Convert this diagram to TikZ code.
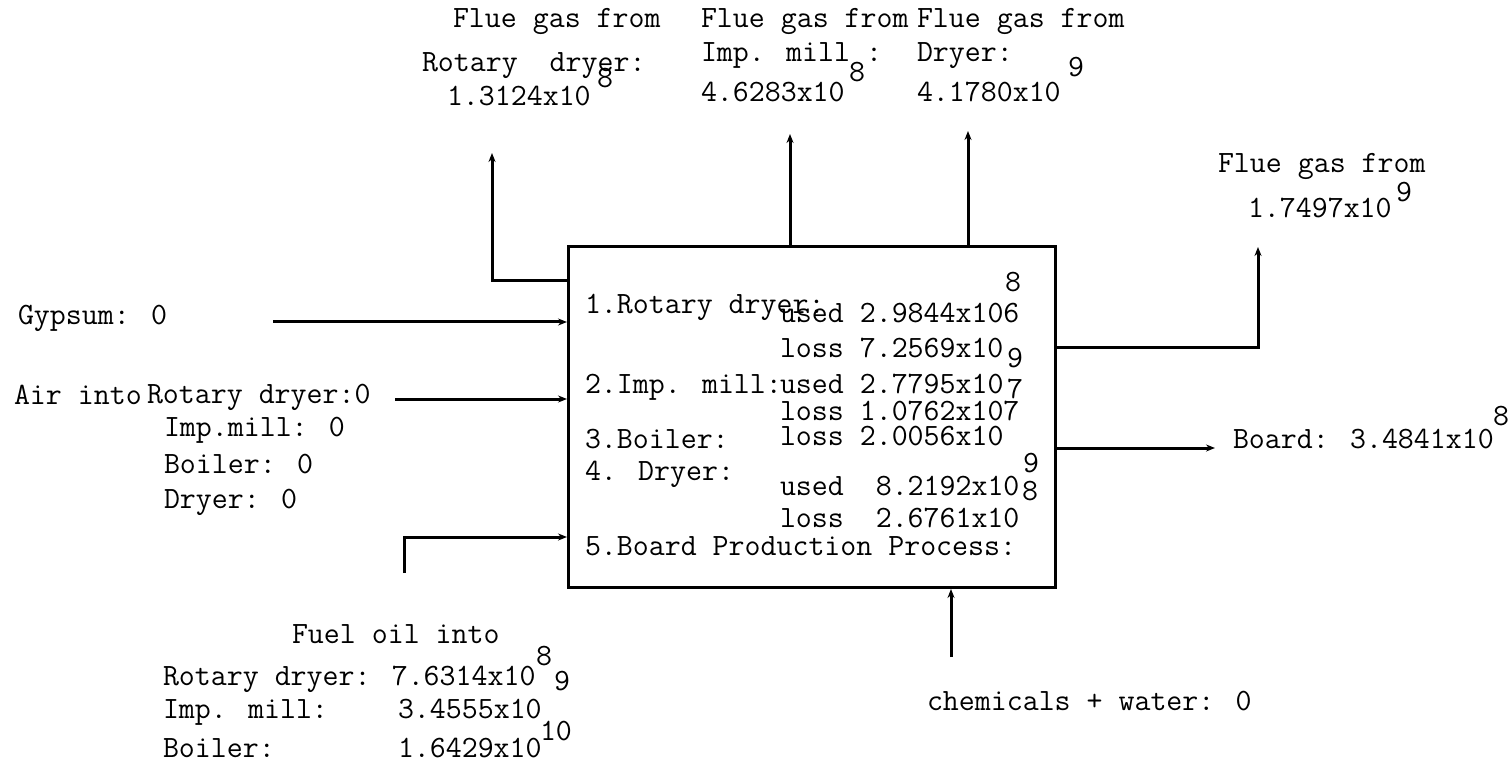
\documentclass[tikz,border=0pt]{standalone}
\usepackage{fontspec}
\usetikzlibrary{arrows.meta}
\tikzset{
  t/.style={anchor=base west, inner sep=0pt, outer sep=0pt, font=\ttfamily\fontsize{31}{34}\selectfont},
  flow/.style={line width=3pt, line join=miter, -{Stealth[length=9pt,width=7pt]}},
  procbox/.style={draw, line width=3pt, anchor=north west, inner sep=0pt, minimum width=487pt, minimum height=341pt}
}
\begin{document}
\begin{tikzpicture}[x=1pt,y=-1pt]
\useasboundingbox[fill=white] (0,0) rectangle (1510,767);
% process box
\node[procbox] (box) at (567,245) {};
% coordinates of free ends
\coordinate (f1) at (492,153);
\coordinate (f1c) at (492,281);
\coordinate (f2) at (790,134);
\coordinate (f3) at (968,131);
\coordinate (f4) at (1258,247);
\coordinate (f4c) at (1258,347);
\coordinate (brd) at (1215,448);
\coordinate (gyp) at (273,322);
\coordinate (air) at (395,399);
\coordinate (fuel) at (404,573);
\coordinate (fuelc) at (404,537);
\coordinate (chem) at (951,657);
% connectors
\draw[flow] (f1c -| box.west) -- (f1c) -- (f1);
\draw[flow] (f2 |- box.north) -- (f2);
\draw[flow] (f3 |- box.north) -- (f3);
\draw[flow] (f4c -| box.east) -- (f4c) -- (f4);
\draw[flow] (brd -| box.east) -- (brd);
\draw[flow] (gyp) -- (gyp -| box.west);
\draw[flow] (air) -- (air -| box.west);
\draw[flow] (fuel) -- (fuelc) -- (fuelc -| box.west);
\draw[flow] (chem) -- (chem |- box.south);
% top labels
\node[t] (t1a) at (453,28) {Flue gas from};
\node[t] (t1b) at (422,72) {Rotary~~dryer:};
\node[t] (t1c) at (447,106) {1.3124x10};
\node[t] (t1e) at (597,88) {8};
\node[t] (t2a) at (701,28) {Flue gas from};
\node[t] (t2b) at (701,62) {Imp. mill};
\node[t] (t2e) at (849,82) {8};
\node[t] (t2d) at (866,62) {:};
\node[t] (t2c) at (701,102) {4.6283x10};
\node[t] (t3a) at (917,28) {Flue gas from};
\node[t] (t3b) at (917,62) {Dryer:};
\node[t] (t3c) at (917,102) {4.1780x10};
\node[t] (t3e) at (1068,77) {9};
% right labels
\node[t] (r1) at (1218,173) {Flue gas from};
\node[t] (r2) at (1248,218) {1.7497x10};
\node[t] (r2e) at (1396,202) {9};
\node[t] (b1) at (1233,448) {Board: 3.4841x10};
\node[t] (b1e) at (1493,425) {8};
% left labels
\node[t] (g1) at (18,325) {Gypsum: 0};
\node[t] (a0) at (14,404) {Air into};
\node[t] (a1) at (147,403) {Rotary dryer:0};
\node[t] (a2) at (164,436) {Imp.mill: 0};
\node[t] (a3) at (164,473) {Boiler: 0};
\node[t] (a4) at (164,508) {Dryer: 0};
% fuel labels
\node[t] (u0) at (292,643) {Fuel oil into};
\node[t] (u1) at (163,685) {Rotary dryer: 7.6314x10};
\node[t] (u1e) at (536,665) {8};
\node[t] (u2e) at (554,690) {9};
\node[t] (u2) at (163,718) {Imp. mill:};
\node[t] (u2v) at (398,718) {3.4555x10};
\node[t] (u3e) at (540,740) {10};
\node[t] (u3) at (163,757) {Boiler:};
\node[t] (u3v) at (398,757) {1.6429x10};
% chemicals
\node[t] (c1) at (927,710) {chemicals + water: 0};
% box contents
\node[t] (k1) at (585,314) {1.Rotary dryer:};
\node[t] (k1u) at (780,323) {used 2.9844x106};
\node[t] (k1e) at (1005,292) {8};
\node[t] (k1l) at (780,357) {loss 7.2569x10};
\node[t] (k1le) at (1007,367) {9};
\node[t] (k2) at (585,393) {2.Imp. mill:};
\node[t] (k2u) at (780,393) {used 2.7795x10};
\node[t] (k2ue) at (1007,398) {7};
\node[t] (k2l) at (780,420) {loss 1.0762x107};
\node[t] (k3) at (585,448) {3.Boiler:};
\node[t] (k3l) at (780,445) {loss 2.0056x10};
\node[t] (k3e) at (1023,472) {9};
\node[t] (k4) at (585,480) {4. Dryer:};
\node[t] (k4u) at (780,495) {used~~8.2192x10};
\node[t] (k4ue) at (1022,500) {8};
\node[t] (k4l) at (780,527) {loss~~2.6761x10};
\node[t] (k5) at (585,555) {5.Board Production Process:};
\end{tikzpicture}
\end{document}
